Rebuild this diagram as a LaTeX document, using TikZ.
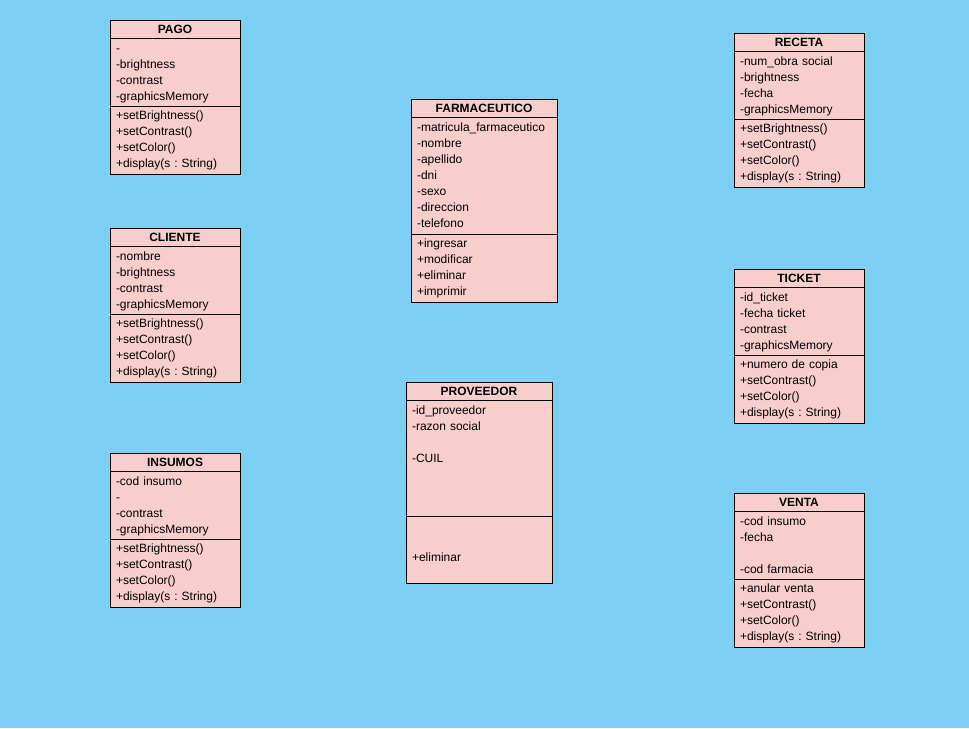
\documentclass[tikz,border=0pt]{standalone}
\usepackage{fontspec}
\setmainfont{Liberation Sans}
\frenchspacing
\usetikzlibrary{positioning}
\definecolor{skyback}{HTML}{7ECFF4}
\definecolor{classpink}{HTML}{F8CECC}

\begin{document}
\begin{tikzpicture}[x=0.75pt, y=-0.75pt,
  classname/.style={draw, fill=classpink, line width=0.75pt, outer sep=0pt,
    anchor=north west, inner xsep=4.5pt, inner ysep=0pt, minimum height=13.5pt,
    align=center, font=\bfseries\fontsize{9}{12}\selectfont},
  classpart/.style={draw, fill=classpink, line width=0.75pt, outer sep=0pt,
    inner xsep=4.5pt, inner ysep=0pt, align=left, font=\fontsize{9}{12}\selectfont},
  attrs/.style={classpart, text height=11pt, text depth=#1},
  ops/.style={classpart, text height=10pt, text depth=#1},
  narrow/.style={text width=88.5pt},
  wide/.style={text width=100.5pt}]
\fill[skyback] (0,0) rectangle (969,728);

% left column
\node[classname, narrow] (pago) at (110,20) {PAGO};
\node[attrs=40pt, narrow, below=0pt of pago] (pago-attr)
  {-\\-brightness\\-contrast\\-graphicsMemory};
\node[ops=41pt, narrow, below=0pt of pago-attr] (pago-ops)
  {+setBrightness()\\+setContrast()\\+setColor()\\+display(s : String)};

\node[classname, narrow] (cliente) at (110,228) {CLIENTE};
\node[attrs=40pt, narrow, below=0pt of cliente] (cliente-attr)
  {-nombre\\-brightness\\-contrast\\-graphicsMemory};
\node[ops=41pt, narrow, below=0pt of cliente-attr] (cliente-ops)
  {+setBrightness()\\+setContrast()\\+setColor()\\+display(s : String)};

\node[classname, narrow] (insumos) at (110,453) {INSUMOS};
\node[attrs=40pt, narrow, below=0pt of insumos] (insumos-attr)
  {-cod insumo\\-\\-contrast\\-graphicsMemory};
\node[ops=41pt, narrow, below=0pt of insumos-attr] (insumos-ops)
  {+setBrightness()\\+setContrast()\\+setColor()\\+display(s : String)};

% middle column
\node[classname, wide] (farma) at (411,99) {FARMACEUTICO};
\node[attrs=76.75pt, wide, below=0pt of farma] (farma-attr)
  {-matricula\_farmaceutico\\-nombre\\-apellido\\-dni\\-sexo\\-direccion\\-telefono};
\node[ops=41pt, wide, below=0pt of farma-attr] (farma-ops)
  {+ingresar\\+modificar\\+eliminar\\+imprimir};

\node[classname, wide] (proveedor) at (406,382) {PROVEEDOR};
\node[attrs=76pt, wide, below=0pt of proveedor] (proveedor-attr)
  {-id\_proveedor\\-razon social\\[12pt]-CUIL};
\node[ops=40.25pt, wide, below=0pt of proveedor-attr] (proveedor-ops)
  {~\\[12pt]+eliminar};

% right column
\node[classname, narrow] (receta) at (734,33) {RECETA};
\node[attrs=40pt, narrow, below=0pt of receta] (receta-attr)
  {-num\_obra social\\-brightness\\-fecha\\-graphicsMemory};
\node[ops=41pt, narrow, below=0pt of receta-attr] (receta-ops)
  {+setBrightness()\\+setContrast()\\+setColor()\\+display(s : String)};

\node[classname, narrow] (ticket) at (734,269) {TICKET};
\node[attrs=40pt, narrow, below=0pt of ticket] (ticket-attr)
  {-id\_ticket\\-fecha ticket\\-contrast\\-graphicsMemory};
\node[ops=41pt, narrow, below=0pt of ticket-attr] (ticket-ops)
  {+numero de copia\\+setContrast()\\+setColor()\\+display(s : String)};

\node[classname, narrow] (venta) at (734,493) {VENTA};
\node[attrs=40pt, narrow, below=0pt of venta] (venta-attr)
  {-cod insumo\\-fecha\\[12pt]-cod farmacia};
\node[ops=41pt, narrow, below=0pt of venta-attr] (venta-ops)
  {+anular venta\\+setContrast()\\+setColor()\\+display(s : String)};
\end{tikzpicture}
\end{document}
